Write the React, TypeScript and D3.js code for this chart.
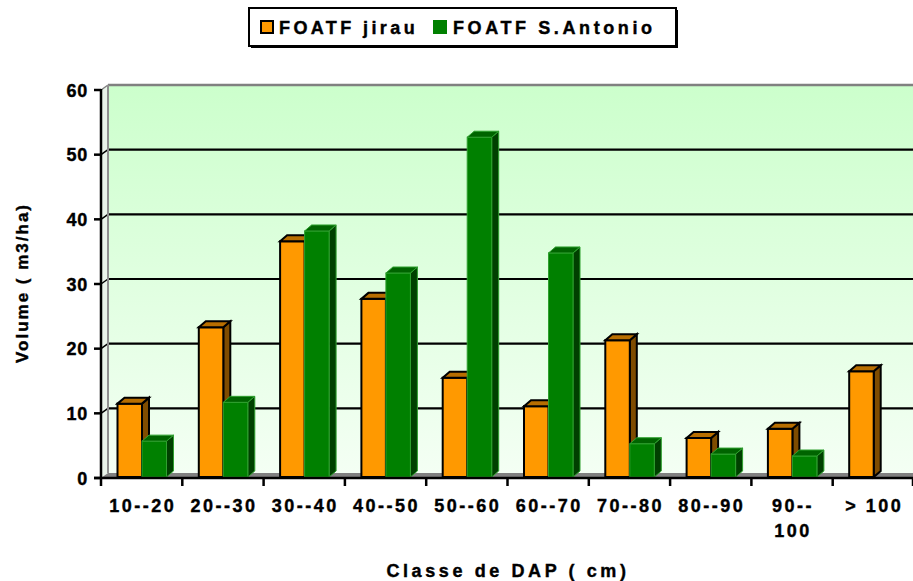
import React from "react";
import * as d3 from "d3";

const categories = ["10--20", "20--30", "30--40", "40--50", "50--60", "60--70", "70--80", "80--90", "90--\n100", "> 100"];
const seriesNames = ["FOATF jirau", "FOATF S.Antonio"];
const jirau = [11.5, 23.3, 36.6, 27.7, 15.5, 11.1, 21.3, 6.2, 7.6, 16.5];
const santonio = [5.7, 11.7, 38.2, 31.7, 52.7, 34.8, 5.3, 3.7, 3.4, 0];
const yTicks = [0, 10, 20, 30, 40, 50, 60];

const W = 913;
const H = 581;
const FONT = "'Liberation Sans', Arial, Helvetica, sans-serif";

const palette = [
  { front: "#FF9900", side: "#7F4C00", top: "#B86E00", stroke: "#000000", sw: 2 },
  { front: "#008000", side: "#004000", top: "#006400", stroke: "#2FA02F", sw: 1 },
];

const txt = { fontWeight: "bold" as const, stroke: "#000", strokeWidth: 0.4 };

export default function App() {
  const x0 = 101;
  const x1 = 914;
  const yFront = d3.scaleLinear().domain([0, 60]).range([478, 90]);
  const DX = 7;
  const DY = -5;
  const yBack = (v: number) => yFront(v) + DY;
  const backLeft = x0 + DX;
  const backRight = W + 2;

  const xBand = d3.scaleBand<string>().domain(categories).range([x0, x1]).padding(0);
  const inner = d3.scaleBand<string>().domain(seriesNames).range([16.5, 65.5]).padding(0);
  const bw = inner.bandwidth();
  const bdx = 7;
  const bdy = -6;

  const data = [jirau, santonio];

  const bars: JSX.Element[] = [];
  categories.forEach((c, i) => {
    seriesNames.forEach((s, si) => {
      const v = data[si][i];
      if (!v) return;
      const p = palette[si];
      const xl = (xBand(c) as number) + (inner(s) as number);
      const xr = xl + bw;
      const yt = yFront(v);
      const yb = yFront(0) - 1;
      const sideP = `${xr},${yt} ${xr + bdx},${yt + bdy} ${xr + bdx},${yb + bdy} ${xr},${yb}`;
      const topP = `${xl},${yt} ${xl + bdx},${yt + bdy} ${xr + bdx},${yt + bdy} ${xr},${yt}`;
      bars.push(
        <g key={`${c}-${s}`}>
          <polygon points={sideP} fill={p.side} stroke={p.stroke} strokeWidth={p.sw} strokeLinejoin="miter" />
          <rect x={xl} y={yt} width={bw} height={yb - yt} fill={p.front} stroke={p.stroke} strokeWidth={p.sw} />
          <polygon points={topP} fill={p.top} stroke={p.stroke} strokeWidth={p.sw} strokeLinejoin="miter" />
        </g>
      );
    });
  });

  return (
    <svg
      width={W}
      height={H}
      viewBox={`0 0 ${W} ${H}`}
      style={{ position: "absolute", left: 0, top: 0, background: "#fff" }}
      fontFamily={FONT}
    >
      <defs>
        <linearGradient id="wallGrad" x1="0" y1="0" x2="0" y2="1">
          <stop offset="0%" stopColor="#CCFFCC" />
          <stop offset="100%" stopColor="#F4FFF4" />
        </linearGradient>
      </defs>

      {/* legend */}
      <rect x={251} y={10} width={427} height={38} fill="#000" />
      <rect x={249} y={8} width={427} height={38} fill="#fff" stroke="#000" strokeWidth={2} />
      <rect x={261} y={21} width={12} height={12} fill={palette[0].front} stroke="#000" strokeWidth={2} />
      <text x={279} y={34} fontSize={18} {...txt} letterSpacing={3.4}>{seriesNames[0]}</text>
      <rect x={433} y={20} width={14} height={14} fill={palette[1].front} />
      <text x={453} y={34} fontSize={18} {...txt} letterSpacing={3.6}>{seriesNames[1]}</text>

      {/* back wall */}
      <rect x={backLeft} y={yBack(60)} width={backRight - backLeft} height={yBack(0) - yBack(60)} fill="url(#wallGrad)" />
      {/* left side wall */}
      <polygon
        points={`${x0},${yFront(60)} ${backLeft},${yBack(60)} ${backLeft},${yBack(0)} ${x0},${yFront(0)}`}
        fill="#EAF4EA"
      />
      {/* gridlines on back wall */}
      {yTicks.filter((t) => t > 0 && t < 60).map((t) => (
        <g key={`g${t}`}>
          <line x1={backLeft} x2={backRight} y1={yBack(t)} y2={yBack(t)} stroke="#000" strokeWidth={2.2} />
          <line x1={x0} x2={backLeft} y1={yFront(t)} y2={yBack(t)} stroke="#000" strokeWidth={1.5} />
        </g>
      ))}
      {/* top edge and left edge of back wall */}
      <line x1={backLeft} x2={backRight} y1={yBack(60)} y2={yBack(60)} stroke="#808080" strokeWidth={2.5} />
      <line x1={x0} x2={backLeft} y1={yFront(60)} y2={yBack(60)} stroke="#808080" strokeWidth={1.5} />
      <line x1={backLeft} x2={backLeft} y1={yBack(60)} y2={yBack(0)} stroke="#909090" strokeWidth={2} />
      {/* floor */}
      <polygon
        points={`${x0},${yFront(0)} ${backLeft},${yBack(0)} ${backRight},${yBack(0)} ${backRight},${yFront(0)}`}
        fill="#808080"
      />

      {bars}

      {/* y axis */}
      <line x1={x0} x2={x0} y1={yFront(60) - 1} y2={yFront(0) + 1} stroke="#000" strokeWidth={2.5} />
      {yTicks.map((t) => (
        <g key={`t${t}`}>
          <line x1={x0 - 7} x2={x0} y1={yFront(t)} y2={yFront(t)} stroke="#000" strokeWidth={2.5} />
          <text x={88} y={yFront(t) + 6.5} textAnchor="end" fontSize={18} {...txt} letterSpacing={0.8}>
            {t}
          </text>
        </g>
      ))}

      {/* x axis */}
      <line x1={x0 - 7} x2={W + 2} y1={yFront(0)} y2={yFront(0)} stroke="#000" strokeWidth={2.5} />
      {categories.map((c) => (
        <line
          key={`xt${c}`}
          x1={xBand(c) as number}
          x2={xBand(c) as number}
          y1={yFront(0)}
          y2={yFront(0) + 8}
          stroke="#000"
          strokeWidth={2.5}
        />
      ))}
      <line x1={x1 - 1} x2={x1 - 1} y1={yFront(0)} y2={yFront(0) + 8} stroke="#000" strokeWidth={2.5} />
      {categories.map((c) => {
        const cx = (xBand(c) as number) + xBand.bandwidth() / 2;
        return (
          <text key={`xl${c}`} x={cx} y={512} textAnchor="middle" fontSize={18} {...txt} letterSpacing={2.5}>
            {c.split("\n").map((ln, k) => (
              <tspan key={k} x={cx + 1} dy={k === 0 ? 0 : 25}>
                {ln}
              </tspan>
            ))}
          </text>
        );
      })}

      {/* axis titles */}
      <text transform="translate(28,283) rotate(-90)" textAnchor="middle" fontSize={17} {...txt} letterSpacing={2}>
        Volume ( m3/ha)
      </text>
      <text x={508} y={577} textAnchor="middle" fontSize={18} {...txt} letterSpacing={3.6}>
        Classe de DAP ( cm)
      </text>
    </svg>
  );
}
